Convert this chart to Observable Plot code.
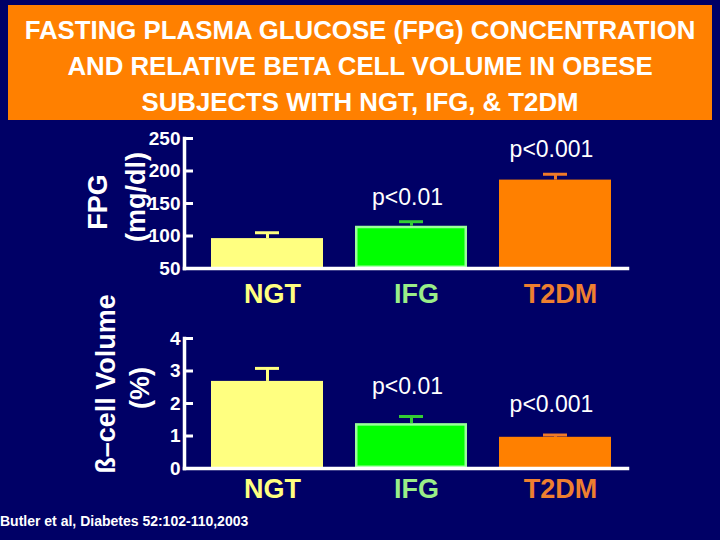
<!DOCTYPE html>
<html><head><meta charset="utf-8">
<script src="https://cdn.jsdelivr.net/npm/d3@7"></script>
<script src="https://cdn.jsdelivr.net/npm/@observablehq/plot@0.6"></script>
<style>
body{margin:0;background:#000066;}
#root{position:relative;width:720px;height:540px;overflow:hidden;background:#000066;font-family:"Liberation Sans",Arial,sans-serif;color:#fff}
#title{position:absolute;left:8px;top:5px;width:704px;height:115px;background:#FF8000;box-sizing:border-box;padding-top:7px;text-align:center;font-weight:bold;font-size:25.8px;line-height:36px;white-space:nowrap;color:#fff}
.ylab{position:absolute;transform:translate(-50%,-50%) rotate(-90deg);font-weight:bold;font-size:27px;line-height:1;white-space:nowrap;color:#fff}
.panel{position:absolute;left:0}
#caption{position:absolute;left:0;top:512px;font-size:14px;line-height:18px;font-weight:bold;white-space:nowrap;color:#fff}
</style>
</head><body>
<div id="root">
  <div id="title">
    <div>FASTING PLASMA GLUCOSE (FPG) CONCENTRATION</div>
    <div>AND RELATIVE BETA CELL VOLUME IN OBESE</div>
    <div>SUBJECTS WITH NGT, IFG, &amp; T2DM</div>
  </div>
  <div id="top" class="panel" style="top:120px"></div>
  <div id="bottom" class="panel" style="top:315px"></div>
  <div class="ylab" style="left:98px;top:202px">FPG</div>
  <div class="ylab" style="left:136px;top:197px">(mg/dl)</div>
  <div class="ylab" style="left:106px;top:384px">ß–cell Volume</div>
  <div class="ylab" style="left:140px;top:388px">(%)</div>
  <div id="caption">Butler et al, Diabetes 52:102-110,2003</div>
</div>
<script>
// ---- data ----
const categories = ["NGT", "IFG", "T2DM"];
const fpgMean = [96, 115, 186];
const fpgSem = [9, 7, 9];
const fpgP = ["", "p<0.01", "p<0.001"];
const fpgTicks = [50, 100, 150, 200, 250];
const betaMean = [2.68, 1.38, 0.96];
const betaSem = [0.4, 0.22, 0.07];
const betaP = ["", "p<0.01", "p<0.001"];
const betaTicks = [0, 1, 2, 3, 4];

// ---- styles ----
const barFill = {NGT: "#FFFF80", IFG: "#00FF00", T2DM: "#FF8000"};
const barStroke = {NGT: "#FFFF80", IFG: "#99FF99", T2DM: "#FF8000"};
const errColor = {NGT: "#FFFF80", IFG: "#33CC33", T2DM: "#F07A28"};
const labColor = {NGT: "#FFFF80", IFG: "#99EE88", T2DM: "#EE7F30"};

function panel(mean, sem, pv, ticks, height, mt, mb, labDy, pDy) {
  const rows = categories.map((c, i) => ({cat: c, v: mean[i], e: sem[i], p: pv[i]}));
  const base = ticks[0];
  return Plot.plot({
    width: 720, height, marginLeft: 184, marginRight: 93, marginTop: mt, marginBottom: mb,
    style: {background: "transparent", color: "white", fontFamily: "Liberation Sans, Arial, sans-serif", overflow: "visible"},
    x: {domain: categories, range: [195, 627], paddingInner: 0.222, paddingOuter: 0.11, axis: null},
    y: {domain: [ticks[0], ticks[ticks.length - 1]], axis: null},
    color: {type: "identity"},
    marks: [
      Plot.barY(rows, {x: "cat", y1: base, y2: "v", fill: d => barFill[d.cat], stroke: d => barStroke[d.cat], strokeWidth: 2.5, inset: 1.25}),
      Plot.ruleX(rows, {x: "cat", y1: "v", y2: d => d.v + d.e, stroke: d => errColor[d.cat], strokeWidth: 3}),
      Plot.tickY(rows, {x: "cat", y: d => d.v + d.e, stroke: d => errColor[d.cat], strokeWidth: 3, insetLeft: 44, insetRight: 44}),
      Plot.text(rows.filter(d => d.p), {x: "cat", y: d => d.v + d.e, text: "p", dy: pDy, dx: -4, lineAnchor: "bottom", fill: "white", fontSize: 23}),
      Plot.text(rows, {x: "cat", text: "cat", frameAnchor: "bottom", lineAnchor: "middle", dy: labDy, dx: 5, fill: d => labColor[d.cat], fontSize: 27, fontWeight: "bold"}),
      Plot.axisY({ticks, tickSize: 9, dx: 9, fill: "none", stroke: "white", strokeWidth: 3, label: null}),
      Plot.axisY({ticks, tickFormat: d3.format("d"), tickSize: 0, tickPadding: 4, fontSize: 19, fontWeight: "bold", fill: "white", label: null}),
      Plot.frame({anchor: "left", stroke: "white", strokeWidth: 3.5}),
      Plot.frame({anchor: "bottom", stroke: "white", strokeWidth: 3.5})
    ]
  });
}

document.getElementById("top").append(panel(fpgMean, fpgSem, fpgP, fpgTicks, 195, 18, 47, 26, -17));
document.getElementById("bottom").append(panel(betaMean, betaSem, betaP, betaTicks, 225, 23, 72, 21, -23));
</script>
</body></html>
